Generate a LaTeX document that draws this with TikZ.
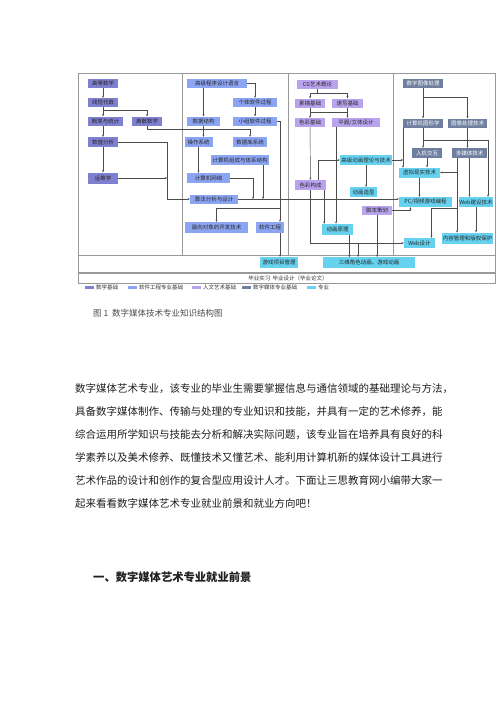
\documentclass[tikz,border=0pt]{standalone}
\usepackage{fontspec}
\setmainfont{Noto Sans CJK SC}
\usetikzlibrary{arrows.meta}
\XeTeXlinebreaklocale "zh"
\XeTeXlinebreakskip=0pt plus 1pt minus 0.3pt
\begin{document}
\begin{tikzpicture}[x=1pt,y=-1pt,
  box/.style={inner sep=0pt, minimum height=9pt, font=\fontsize{5.5}{6}\selectfont, text=black!85},
  mathbox/.style={box, fill=MathBlue},
  swbox/.style={box, fill=SwBlue},
  artbox/.style={box, fill=ArtLav},
  dmbox/.style={box, fill=DmSlate, text=white},
  majbox/.style={box, fill=MajCyan},
  arr/.style={-{Stealth[length=2.2pt,width=2pt]}, draw=black!70, line width=0.45pt},
  ln/.style={draw=black!70, line width=0.45pt},
  frame/.style={draw=black!40, line width=0.5pt},
  legtext/.style={font=\fontsize{5.5}{6}\selectfont, text=black!80, inner sep=0pt},
  bodytext/.style={font=\fontsize{10.5}{12}\selectfont, text=black!88, inner sep=0pt, anchor=west}]
\definecolor{MathBlue}{RGB}{128, 128, 208}
\definecolor{SwBlue}{RGB}{140, 165, 242}
\definecolor{ArtLav}{RGB}{185, 163, 238}
\definecolor{DmSlate}{RGB}{110, 127, 160}
\definecolor{MajCyan}{RGB}{102, 210, 240}
\useasboundingbox (0,0) rectangle (500,707);
\fill[white] (0,0) rectangle (500,707);

% frame of the chart
\draw[frame] (78,73) rectangle (495,283);
\foreach \xx in {182,288,393}{
\draw[frame] (\xx,73) -- (\xx,255);
}
\draw[frame] (78,255) -- (495,255);
\draw[black!40, line width=1.5pt] (78,273) -- (495,273);

% column 1
\node[mathbox, minimum width=30pt] (gdsx) at (103,83.5) {高等数学};
\node[mathbox, minimum width=30pt] (xxds) at (103,102.5) {线性代数};
\node[mathbox, minimum width=35pt] (glyt) at (105.5,121) {概率与统计};
\node[mathbox, minimum width=30pt] (lssx) at (147,121) {离散数学};
\node[mathbox, minimum width=30pt, minimum height=10pt] (szfx) at (103,142) {数值分析};
\node[mathbox, minimum width=30pt, minimum height=11pt] (ycx) at (103,178) {运筹学};

% column 2
\node[swbox, minimum width=60pt] (gjcx) at (217,83.5) {高级程序设计语言};
\node[swbox, minimum width=44pt] (gtrj) at (255,102.5) {个体软件过程};
\node[swbox, minimum width=44pt] (xzrj) at (255,121) {小组软件过程};
\node[swbox, minimum width=33pt] (sjjg) at (203.5,121) {数据结构};
\node[swbox, minimum width=28pt, minimum height=10pt] (czxt) at (198.5,142) {操作系统};
\node[swbox, minimum width=34pt, minimum height=10pt] (sjkxt) at (250,142) {数据库系统};
\node[swbox, minimum width=58pt, minimum height=10pt] (jszc) at (240,160) {计算机组成与体系结构};
\node[swbox, minimum width=43pt, minimum height=10pt] (jswl) at (208.5,178) {计算机网络};
\node[swbox, minimum width=48pt] (sffx) at (214,199) {算法分析与设计};
\node[swbox, minimum width=63pt, minimum height=11pt] (mxdx) at (216.5,227.5) {面向对象的开发技术};
\node[swbox, minimum width=28pt, minimum height=11pt] (rjgc) at (270,227.5) {软件工程};

% column 3
\node[artbox, minimum width=41pt] (cgys) at (317.5,84.5) {CG艺术概论};
\node[artbox, minimum width=30pt] (smjc) at (310,103) {素描基础};
\node[artbox, minimum width=31pt] (sxjc) at (347.5,103) {速写基础};
\node[artbox, minimum width=30pt] (scjc) at (310,122.5) {色彩基础};
\node[artbox, minimum width=48pt] (pmlt) at (356,122.5) {平面/立体设计};
\node[majbox, minimum width=52pt, minimum height=10pt] (gjdh) at (366,160) {高级动画理论与技术};
\node[artbox, minimum width=31pt, minimum height=10pt] (scgc) at (310.5,185) {色彩构成};
\node[majbox, minimum width=27pt, minimum height=10pt] (dhzx) at (363.5,192) {动画造型};
\node[artbox, minimum width=30pt] (jbch) at (377,210.5) {脚本策划};
\node[majbox, minimum width=31pt, minimum height=11pt] (dhyl) at (337.5,229) {动画原理};

% column 4
\node[dmbox, minimum width=40pt] (szsp) at (423,83.5) {数字图像处理};
\node[dmbox, minimum width=40pt] (jsjtx) at (423,123) {计算机图形学};
\node[dmbox, minimum width=39pt] (txcl) at (467.5,123) {图像处理技术};
\node[dmbox, minimum width=30pt, minimum height=10pt] (rjjh) at (427,153) {人机交互};
\node[dmbox, minimum width=35pt, minimum height=10pt] (dmt) at (469.5,153) {多媒体技术};
\node[majbox, minimum width=41pt, minimum height=10pt] (xnxs) at (419.5,172.5) {虚拟现实技术};
\node[majbox, minimum width=53pt, minimum height=10pt] (pcyx) at (425.5,202) {PC/视频游戏编程};
\node[majbox, minimum width=32pt, minimum height=10pt] (webjs) at (476,202) {Web建设技术};
\node[majbox, minimum width=51pt, minimum height=11pt] (nrgl) at (467.5,238) {内容管理和版权保护};
\node[majbox, minimum width=31pt, minimum height=10pt] (websj) at (419.5,243) {Web设计};

% bottom rows
\node[majbox, minimum width=38pt, minimum height=11pt] (yxxm) at (279,262.5) {游戏项目管理};
\node[majbox, minimum width=92pt, minimum height=11pt] (swjs) at (369,262.5) {三维角色动画、游戏动画};
\node[legtext] (byxx) at (288,278) {毕业实习\ \ 毕业设计（毕业论文）};

% junctions
\coordinate (j1) at (167,178);
\coordinate (j2) at (280,208);
\coordinate (b1) at (253,199);
\coordinate (b2) at (263,199);
\coordinate (j3) at (358,243);
\coordinate (j5) at (403,160);
\coordinate (j7) at (457,208);

% arrows, column 1
\draw[arr] (gdsx) -- (xxds);
\draw[arr] (xxds) -- (xxds |- glyt.north);
\draw[arr] (xxds.south) ++(0,3.5) -| (lssx.north);
\draw[arr] (glyt.south -| xxds) -- (szfx);
\draw[arr] (szfx) -- (ycx);
\draw[arr] (szfx.east) -- (szfx.east -| j1) |- (sffx.west);
\draw[arr] (ycx.east) -- (j1);
\draw[arr] (lssx.south) -- ++(0,4) -| (sjkxt.north);

% arrows, column 2
\draw[arr] (gjcx.south -| sjjg) -- (sjjg);
\draw[arr] (gjcx.east) -| (gtrj.north);
\draw[arr] (gtrj) -- (xzrj);
\draw[arr] (sjjg) -- (sjjg |- czxt.north);
\draw[arr] (czxt) -- (czxt |- jswl.north);
\draw[arr] (xzrj.east) -| (j2 |- rjgc.north);
\draw[arr] (j2 |- rjgc.south) -- (j2 |- yxxm.north);
\draw[arr] (sffx.east) -- (sffx.east -| pcyx.west);
\draw[arr] (jswl.east) -| (b1);
\draw[arr] (jszc.south -| b2) -- (b2);
\draw[arr] (j2) -| (mxdx.north);

% arrows, column 3
\draw[arr] (cgys.south) -- ++(0,4) -| (smjc.north);
\draw[arr] (cgys.south) ++(0,4) -| (sxjc.north);
\draw[arr] (smjc) -- (scjc);
\draw[arr] (sxjc) -- (sxjc |- pmlt.north);
\draw[ln] (smjc.south) ++(0,5) -| (sxjc.south);
\draw[arr] (scjc) -- (scgc);
\draw[arr] ([xshift=8pt]scgc.north) |- (gjdh.west);
\draw[arr] ([xshift=-2pt]scgc.south east) -- ++(0,33.5);
\draw[arr] ([xshift=-20pt]pmlt.south) -- ++(0,96.5);
\draw[arr] (scgc.south) |- (websj.west);
\draw[arr] (j3) -- (j3 |- swjs.north);
\draw[arr] ([xshift=12pt]dhyl.south) -- ++(0,22.5);
\draw[arr] (jbch) -- (jbch |- swjs.north);
\draw[arr] (jbch.east) -| ([xshift=-15pt]pcyx.south);
\draw[arr] (gjdh) -- (gjdh |- dhzx.north);
\draw[arr] (gjdh.east) -- (j5);

% arrows, column 4
\draw[arr] (szsp) -- (jsjtx);
\draw[arr] (szsp.south) ++(0,9) -| (txcl.north);
\draw[arr] ([xshift=-20pt]jsjtx.south) -- ++(0,40);
\draw[arr] (jsjtx) -- (jsjtx |- rjjh.north);
\draw[arr] (jsjtx.south) ++(0,12.5) -| ([xshift=12pt]webjs.north);
\draw[arr] (txcl) -- (txcl |- dmt.north);
\draw[arr] (rjjh) -- (rjjh |- xnxs.north);
\draw[arr] ([xshift=-12.5pt]dmt.south) |- (xnxs.east);
\draw[arr] ([xshift=-12.5pt]dmt.south) -- ++(0,74.5);
\draw[arr] (j7) -| ([xshift=12pt]websj.north);
\draw[arr] (dmt) -- (dmt |- webjs.north);
\draw[arr] (webjs) -- (webjs |- nrgl.north);
\draw[arr] (xnxs) -- (xnxs |- pcyx.north);

% legend
\foreach \xx/\col/\lab [count=\i] in {85/MathBlue/数学基础, 128/SwBlue/软件工程专业基础, 192/ArtLav/人文艺术基础, 242/DmSlate/数字媒体专业基础, 307/MajCyan/专业}{
\fill[\col] (\xx,285.5) rectangle ++(9,3);
\node[legtext, anchor=west] (leg\i) at (\xx+11,287) {\lab};
}

% caption and text
\node[font=\fontsize{8.5}{10}\selectfont, text=black!70, inner sep=0pt, anchor=west] (cap) at (93,313) {图 1\ \ 数字媒体技术专业知识结构图};
\node[bodytext] (p1) at (75,389) {\makebox[365pt][s]{数字媒体艺术专业，该专业的毕业生需要掌握信息与通信领域的基础理论与方法，}};
\node[bodytext] (p2) at (75,411.5) {\makebox[363pt][s]{具备数字媒体制作、传输与处理的专业知识和技能，并具有一定的艺术修养，能}};
\node[bodytext] (p3) at (75,434.5) {\makebox[363pt][s]{综合运用所学知识与技能去分析和解决实际问题，该专业旨在培养具有良好的科}};
\node[bodytext] (p4) at (75,457.5) {\makebox[363pt][s]{学素养以及美术修养、既懂技术又懂艺术、能利用计算机新的媒体设计工具进行}};
\node[bodytext] (p5) at (75,480.5) {\makebox[363pt][s]{艺术作品的设计和创作的复合型应用设计人才。下面让三思教育网小编带大家一}};
\node[bodytext] (p6) at (75,503.5) {起来看看数字媒体艺术专业就业前景和就业方向吧！};
\node[bodytext, font=\fontsize{11.3}{13}\selectfont\bfseries, anchor=west] (head) at (93,577) {一、数字媒体艺术专业就业前景};
\end{tikzpicture}
\end{document}
